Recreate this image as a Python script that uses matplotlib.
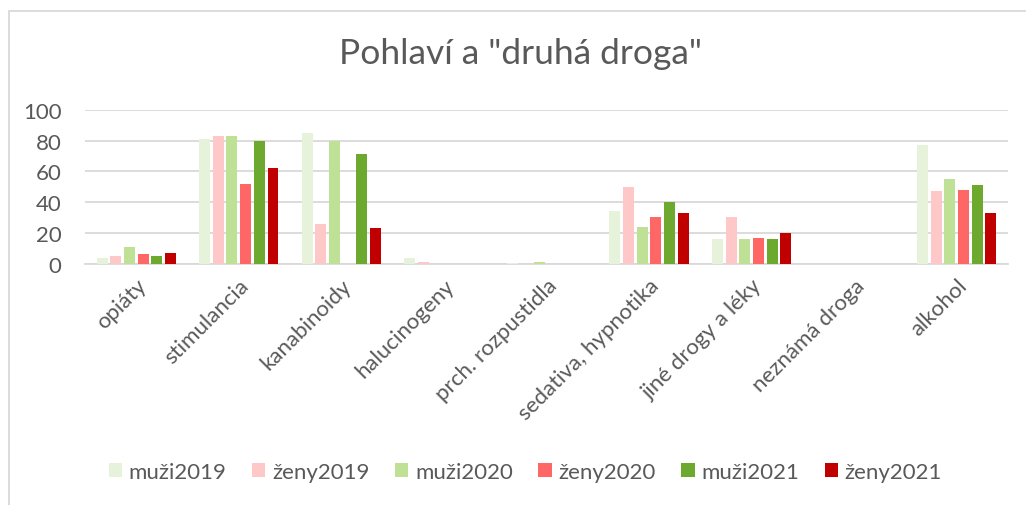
import matplotlib
matplotlib.use("Agg")
import matplotlib.pyplot as plt
import numpy as np
from matplotlib.patches import Rectangle

plt.rcParams['font.family'] = ['Lato', 'DejaVu Sans']

categories = ["opiáty", "stimulancia", "kanabinoidy", "halucinogeny", "prch. rozpustidla",
              "sedativa, hypnotika", "jiné drogy a léky", "neznámá droga", "alkohol"]
series_names = ["muži2019", "ženy2019", "muži2020", "ženy2020", "muži2021", "ženy2021"]
muzi2019 = [4, 81, 85, 4, 0.5, 34, 16, 0, 77]
zeny2019 = [5, 83, 26, 1, 0, 50, 30, 0, 47]
muzi2020 = [11, 83, 80, 0, 1, 24, 16, 0, 55]
zeny2020 = [6, 52, 0, 0, 0, 30, 17, 0, 48]
muzi2021 = [5, 80, 71, 0, 0, 40, 16, 0, 51]
zeny2021 = [7, 62, 23, 0, 0, 33, 20, 0, 33]
colors = ["#E6F3DA", "#FFC8C8", "#BEE195", "#FF6666", "#6DA92F", "#C00000"]

series = [muzi2019, zeny2019, muzi2020, zeny2020, muzi2021, zeny2021]

fig = plt.figure(figsize=(10.26, 5.06), dpi=100)
ax = fig.add_axes([0.0828, 0.4769, 0.8997, 0.3043])

x = np.arange(len(categories))
slot = 0.8 / 6
bw = slot * 0.8
for i, (vals, name, c) in enumerate(zip(series, series_names, colors)):
    ax.bar(x - 0.4 + slot * (i + 0.5), vals, width=bw, color=c, label=name, zorder=3)

ax.set_xlim(-0.5, len(categories) - 0.5)
ax.set_ylim(0, 100)
ax.set_yticks([0, 20, 40, 60, 80, 100])
ax.yaxis.grid(True, color="#D9D9D9", linewidth=1.3, zorder=0)
ax.set_axisbelow(True)
for s in ["top", "right", "left"]:
    ax.spines[s].set_visible(False)
ax.spines["bottom"].set_color("#D9D9D9")
ax.spines["bottom"].set_linewidth(1.3)
ax.tick_params(axis='both', length=0, colors="#595959")
ax.tick_params(axis='y', pad=17, labelsize=16)
ax.set_xticks(x)
ax.set_xticklabels(categories, rotation=45, ha='right', rotation_mode='anchor', fontsize=16)
ax.tick_params(axis='x', pad=8)

fig.text(0.507, 0.893, 'Pohlaví a "druhá droga"', ha='center', va='center',
         fontsize=25.5, color="#595959")

leg = fig.legend(loc='center', bbox_to_anchor=(0.512, 0.065), ncol=6, frameon=False,
                 fontsize=16, handlelength=0.6, handleheight=0.6, handletextpad=0.3,
                 columnspacing=1.15, labelcolor="#595959")

fig.patches.append(Rectangle((9 / 1026, -0.1), 1.2, (506 - 12) / 506 + 0.1,
                             transform=fig.transFigure, fill=False,
                             edgecolor="#D9D9D9", linewidth=1.3))

fig.savefig("out.png", dpi=100)
